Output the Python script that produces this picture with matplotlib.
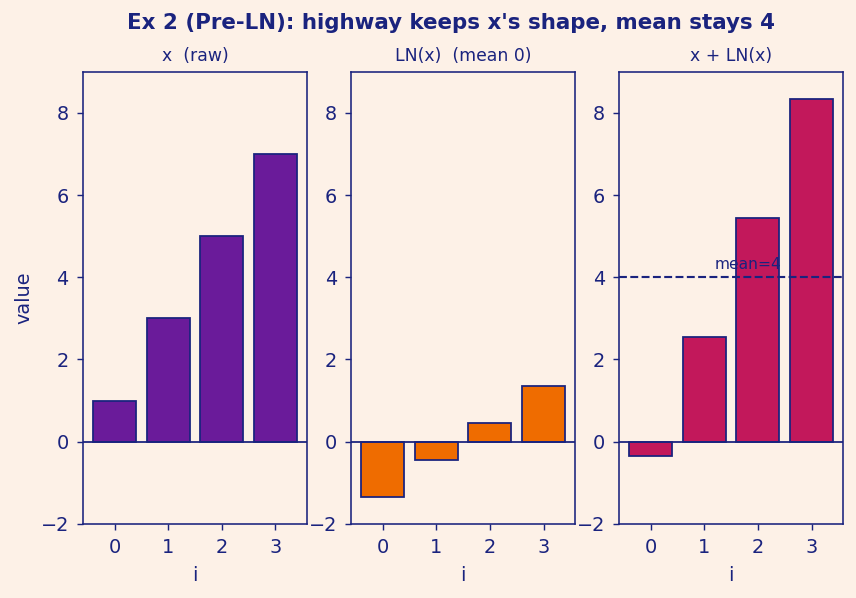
import numpy as np
import matplotlib.pyplot as plt

# data
idx = [0, 1, 2, 3]
x_raw = [1, 3, 5, 7]
ln_x = [-1.342, -0.447, 0.447, 1.342]
x_plus_ln = [-0.342, 2.553, 5.447, 8.342]
mean_val = 4

navy = '#1a237e'
bg = '#fdf1e7'
colors = ['#6a1b9a', '#ef6c00', '#c2185b']
titles = ['x  (raw)', 'LN(x)  (mean 0)', 'x + LN(x)']
series = [x_raw, ln_x, x_plus_ln]

plt.rcParams['text.color'] = navy
plt.rcParams['axes.labelcolor'] = navy
plt.rcParams['xtick.color'] = navy
plt.rcParams['ytick.color'] = navy

DPI = 128
fig, axes = plt.subplots(1, 3, figsize=(856 / DPI, 598 / DPI), dpi=DPI)
fig.patch.set_facecolor(bg)
fig.subplots_adjust(left=0.097, right=0.985, top=0.88, bottom=0.124, wspace=0.196)

for ax, vals, c, t in zip(axes, series, colors, titles):
    ax.set_facecolor(bg)
    ax.bar(idx, vals, width=0.8, color=c, edgecolor=navy, linewidth=1.0)
    ax.axhline(0, color=navy, linewidth=1.0)
    ax.set_ylim(-2, 9)
    ax.set_xticks(idx)
    ax.set_title(t, fontsize=9.7, color=navy)
    ax.set_xlabel('i', fontsize=10.8, labelpad=5)
    ax.tick_params(labelsize=10.8, color=navy, pad=4.5)
    for s in ax.spines.values():
        s.set_color(navy)
        s.set_linewidth(0.9)

axes[0].set_ylabel('value', fontsize=10.8)

axes[2].axhline(mean_val, color=navy, linestyle='--', linewidth=1.2)
axes[2].text(1.2, mean_val + 0.12, 'mean=4', fontsize=8.7, color=navy, va='bottom', ha='left')

fig.suptitle("Ex 2 (Pre-LN): highway keeps x's shape, mean stays 4",
             fontsize=12, fontweight='bold', color=navy, x=0.527, y=0.978)

plt.savefig('out.png', dpi=DPI, facecolor=bg)
